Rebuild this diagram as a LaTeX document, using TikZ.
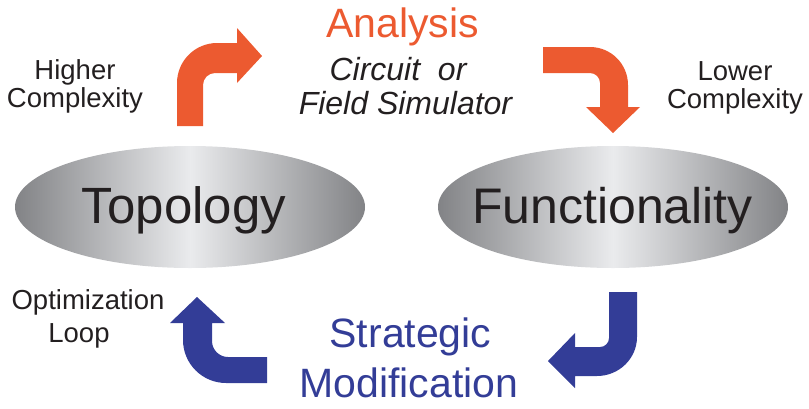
\documentclass[tikz,border=0pt]{standalone}
\usepackage{fontspec}
\setmainfont{Liberation Sans}
\usetikzlibrary{shapes.geometric}

\definecolor{flame}{RGB}{236,90,48}
\definecolor{indigo}{RGB}{51,61,151}
\definecolor{ink}{RGB}{35,31,32}
\definecolor{steelEdge}{RGB}{130,131,134}
\definecolor{steelMid}{RGB}{234,235,237}

\begin{document}
\begin{tikzpicture}[x=1pt,y=-1pt,
  blob/.style={ellipse, minimum width=350pt, minimum height=122pt, inner sep=0pt,
    shade, left color=steelEdge, right color=steelEdge, middle color=steelMid},
  bigword/.style={anchor=base, inner sep=0pt, text=ink, font=\fontsize{51}{51}\selectfont},
  sidenote/.style={anchor=base, inner sep=0pt, text=ink, font=\fontsize{27.5}{27.5}\selectfont},
  simnote/.style={anchor=base, inner sep=0pt, text=ink, font=\fontsize{32}{32}\selectfont\itshape},
  headword/.style={anchor=base, inner sep=0pt, font=\fontsize{41}{41}\selectfont},
]
\useasboundingbox (0,0) rectangle (809,408);

% the two states of the loop
\node[blob] (topo) at (190,207) {};
\node[blob] (func) at (613,207) {};
\node[bigword] (topoText) at (184,223) {Topology};
\node[bigword, font=\fontsize{50}{50}\selectfont] (funcText) at (612.5,223) {Functionality};

% analysis step
\node[headword, text=flame] (analysis) at (402.5,37) {Analysis};
\node[simnote] (circuit) at (398,80) {Circuit\ \ or};
\node[simnote] (field) at (405.5,114) {Field Simulator};

% strategic modification step
\node[headword, text=indigo] (strategic) at (410.5,347) {Strategic};
\node[headword, text=indigo] (modif) at (409,397) {Modification};

% side notes
\node[sidenote] (higher) at (75,79) {Higher};
\node[sidenote] (complexL) at (75,107) {Complexity};
\node[sidenote] (lower) at (735,80) {Lower};
\node[sidenote] (complexR) at (735,108) {Complexity};
\node[sidenote] (optim) at (88,309) {Optimization};
\node[sidenote] (loop) at (79,342) {Loop};

% bent block arrows
\fill[flame] (177,126) -- (177,83) .. controls (177,61) and (195,43) .. (217,43)
  -- (237,43) -- (237,28) -- (262,56) -- (237,83) -- (237,73) -- (215,73)
  .. controls (208.4,73) and (203,78.4) .. (203,85) -- (203,126) -- cycle;

\fill[flame] (543,47) -- (590,47) .. controls (611,47) and (628,64) .. (628,85)
  -- (628,107) -- (640,107) -- (613,133) -- (586,107) -- (600,107) -- (600,83)
  .. controls (600,77.5) and (595.5,73) .. (590,73) -- (543,73) -- cycle;

\fill[indigo] (609,292) -- (637,292) -- (637,337)
  .. controls (637,358.5) and (619,376) .. (597,376)
  -- (575,376) -- (575,388) -- (548,361) -- (575,333) -- (575,347) -- (600,347)
  .. controls (605,347) and (609,343) .. (609,338) -- cycle;

\fill[indigo] (267,357) -- (228,357) .. controls (219.2,357) and (212,349.8) .. (212,341)
  -- (212,323) -- (225,323) -- (197,297) -- (170,323) -- (183,323) -- (183,340)
  .. controls (183,363.7) and (202.3,383) .. (226,383) -- (267,383) -- cycle;
\end{tikzpicture}
\end{document}
